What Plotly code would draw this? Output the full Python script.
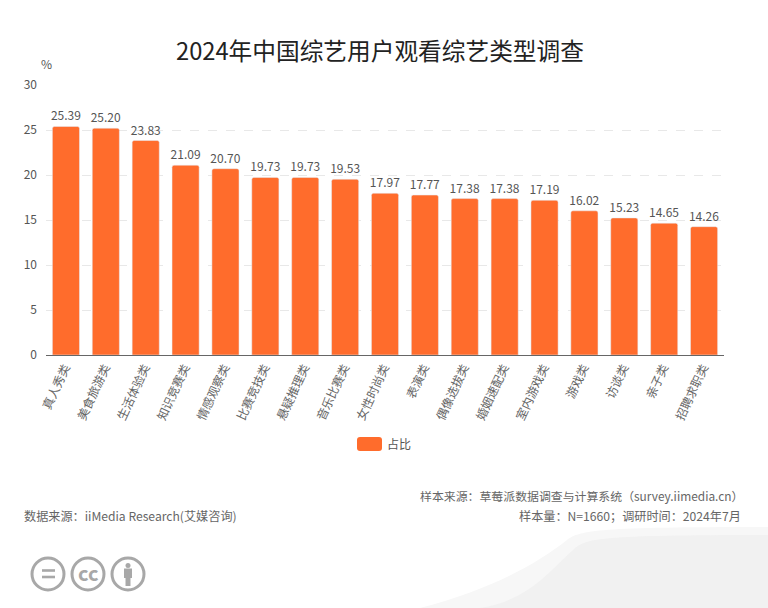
import plotly.graph_objects as go

# --- Data ---
categories = ["真人秀类", "美食旅游类", "生活体验类", "知识竞赛类", "情感观察类", "比赛竞技类",
              "悬疑推理类", "音乐比赛类", "女性时尚类", "表演类", "偶像选拔类", "婚姻速配类",
              "室内游戏类", "游戏类", "访谈类", "亲子类", "招聘求职类"]
values = [25.39, 25.20, 23.83, 21.09, 20.70, 19.73, 19.73, 19.53, 17.97, 17.77,
          17.38, 17.38, 17.19, 16.02, 15.23, 14.65, 14.26]
value_labels = [f"{v:.2f}" for v in values]
y_ticks = [0, 5, 10, 15, 20, 25, 30]

FONT = "Noto Sans CJK SC"
ORANGE = "#ff6c2c"
ICON = "#a8a8a8"
W, H = 768, 608
L, R, T, B = 46, 724, 85, 355


# pixel position on the page -> paper coords, for the decoration and footer
def px(x):
    return (x - L) / (R - L)


def py(y):
    return (B - y) / (B - T)


def note(x, y, text, size=12, color="#666666", anchor="left"):
    fig.add_annotation(x=px(x), y=py(y), xref="paper", yref="paper", text=text, showarrow=False,
                       xanchor=anchor, yanchor="middle", font=dict(family=FONT, size=size, color=color))


def blob(points, color):
    path = f"M {px(points[0][0])} {py(points[0][1])} "
    for p in points[1:]:
        path += "C " + ", ".join(f"{px(a)} {py(b)}" for a, b in p) + " "
    fig.add_shape(type="path", xref="paper", yref="paper", path=path + "Z",
                  fillcolor=color, line_width=0, layer="below")


def box(x0, x1, y0, y1, color):
    fig.add_shape(type="rect", xref="paper", yref="paper", x0=px(x0), x1=px(x1), y0=py(y1), y1=py(y0),
                  fillcolor=color, line_width=0)


# --- Build figure ---
fig = go.Figure()

fig.add_trace(go.Bar(
    x=categories,
    y=values,
    name="占比",
    width=0.68,
    marker=dict(color=ORANGE, cornerradius=2),
    text=value_labels,
    textposition="outside",
    constraintext="none",
    cliponaxis=False,
    textfont=dict(family=FONT, size=12, color="#555555"),
))

# --- Background and icons ---
blob([(420, 608), [(490, 590), (535, 565), (567, 540)], [(580, 530), (600, 527), (768, 527)],
      [(768, 560), (768, 590), (768, 608)]], "#f7f7f7")
blob([(480, 608), [(530, 600), (550, 570), (573, 550)], [(585, 538), (600, 535), (768, 535)],
      [(768, 560), (768, 590), (768, 608)]], "#f1f1f1")

for cx in [48, 88, 128]:
    fig.add_shape(type="circle", xref="paper", yref="paper", x0=px(cx - 16), x1=px(cx + 16),
                  y0=py(574 + 16), y1=py(574 - 16), line=dict(color=ICON, width=3))
for ly in [570.5, 577]:
    box(42, 55, ly - 1.3, ly + 1.3, ICON)
fig.add_shape(type="circle", xref="paper", yref="paper", x0=px(125.5), x1=px(130.5), y0=py(568), y1=py(563),
              fillcolor=ICON, line_width=0)
box(124, 132, 568.5, 578, ICON)
box(125.5, 130.5, 578, 586, ICON)
note(88, 572.5, "<b>cc</b>", size=20, color=ICON, anchor="center")

# --- Legend drawn by hand, the swatch is wider than plotly's ---
fig.add_shape(
    type="path", xref="paper", yref="paper", fillcolor=ORANGE, line_width=0,
    path=(f"M {px(360)} {py(437)} L {px(379)} {py(437)} Q {px(382)} {py(437)} {px(382)} {py(440)} "
          f"L {px(382)} {py(448)} Q {px(382)} {py(451)} {px(379)} {py(451)} "
          f"L {px(360)} {py(451)} Q {px(357)} {py(451)} {px(357)} {py(448)} "
          f"L {px(357)} {py(440)} Q {px(357)} {py(437)} {px(360)} {py(437)} Z"),
)
note(385, 443, "占比", size=12, color="#555555")

# --- Texts ---
note(46, 63, "%", size=12, color="#555555", anchor="center")
note(380, 50, "2024年中国综艺用户观看综艺类型调查", size=23.7, color="#222222", anchor="center")
note(22, 515, "数据来源：iiMedia Research(艾媒咨询)", size=12.15)
note(745, 495, "样本来源：草莓派数据调查与计算系统（survey.iimedia.cn）", size=11.9, anchor="right")
note(743, 515, "样本量：N=1660；调研时间：2024年7月", size=12.15, anchor="right")

# --- Layout ---
fig.update_layout(
    width=W,
    height=H,
    margin=dict(l=L, r=W - R, t=T, b=H - B, pad=0),
    showlegend=False,
    plot_bgcolor="white",
    paper_bgcolor="white",
    bargap=0.32,
    font=dict(family=FONT, size=12, color="#555555"),
    xaxis=dict(
        type="category",
        tickangle=-65,
        ticklabelshift=-1,
        ticks="",
        showgrid=False,
        showline=True,
        linecolor="#666666",
        linewidth=1,
        tickfont=dict(family=FONT, size=12, color="#666666"),
    ),
    yaxis=dict(
        range=[0, 30],
        tickvals=y_ticks,
        showgrid=True,
        gridcolor="#e8e8e8",
        griddash="dash",
        gridwidth=1,
        zeroline=False,
        showline=False,
        ticks="",
        ticklabelstandoff=8,
        tickfont=dict(family=FONT, size=12, color="#555555"),
    ),
)

# page margin would push the chart 8px off
fig.write_html("out.html", config=dict(displayModeBar=False),
               post_script="document.body.style.margin = '0';")
